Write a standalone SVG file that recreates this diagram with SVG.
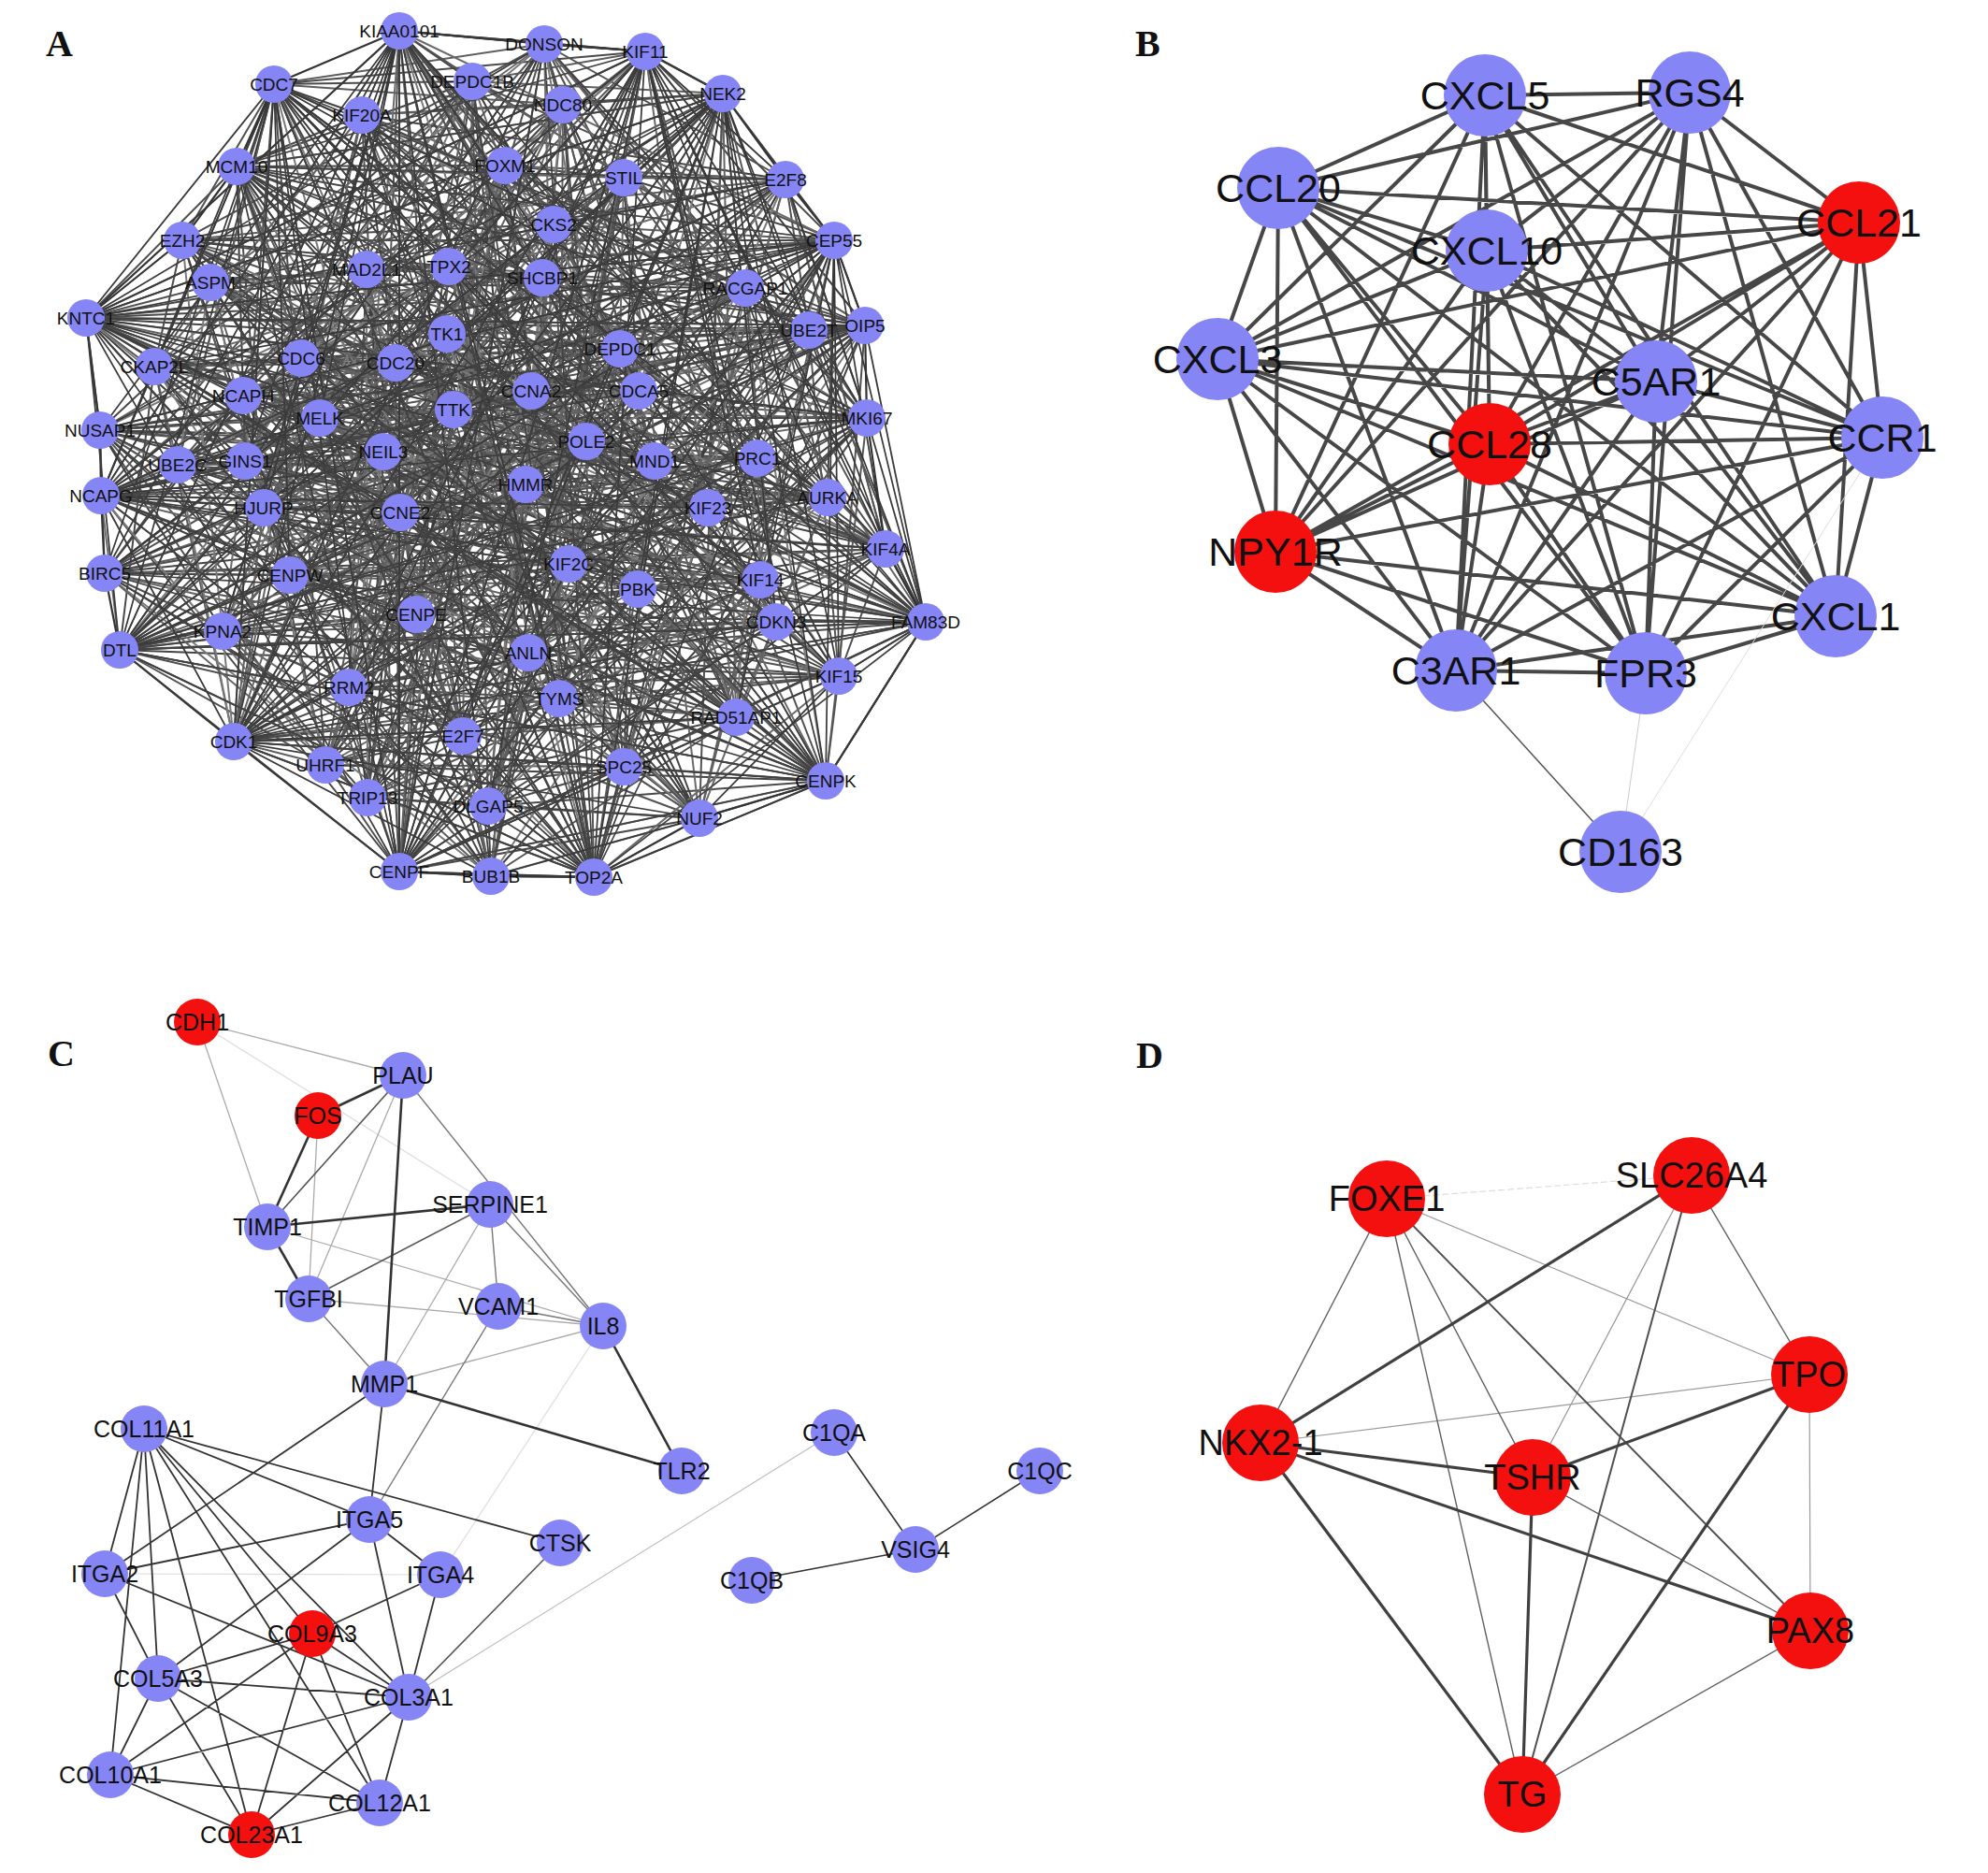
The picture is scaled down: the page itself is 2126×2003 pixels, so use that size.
<svg xmlns="http://www.w3.org/2000/svg" width="2126" height="2003" viewBox="0 0 2126 2003">
<style>
text{font-family:"Liberation Sans",Arial,sans-serif;fill:#111;text-anchor:middle}
.pl{font-family:"Liberation Serif","Times New Roman",serif;font-size:40px;font-weight:bold;text-anchor:start}
.A circle{fill:#8585f5}.A text{font-size:19px}
.B circle{fill:#8585f5}.B text{font-size:43px}
.C circle{fill:#8585f5}.C text{font-size:25px}
.D circle{fill:#f51010}.D text{font-size:38px}
.B .r circle,.C .r circle{fill:#f51010}
.e{fill:none;stroke-linecap:round;stroke-linejoin:round}
</style>
<rect width="2126" height="2003" fill="#fff"/>
<text class="pl" x="49" y="60">A</text>
<text class="pl" x="1214" y="60">B</text>
<text class="pl" x="51" y="1140">C</text>
<text class="pl" x="1215" y="1142">D</text>
<g id="edges">
<g id="edges-A" class="e" stroke-width="2">
<polyline stroke="#4a4a4a" points="427,33 582,47 690,55 293,90 505,87 602,112 773,100 387,123 253,178 540,177 667,190 840,192 592,240 195,257 892,257 225,302 392,288 480,285 580,297 797,308 92,340 865,353 925,348 478,357 663,373 165,392 322,383 423,388 260,423 568,418 683,418 927,447 342,447 485,438 107,460 627,472 410,483 700,493 810,490 190,497 262,493 108,530 562,518 757,543 885,532 282,543 428,548 947,587 112,613 310,615 608,603 682,630 813,620 445,657 238,675 128,695 830,665 990,665 565,698 897,723 373,735 598,747 787,767 250,793 495,787 348,818 393,853 667,820 522,862 883,835 748,875 427,932 525,937 635,938"/>
<polyline stroke="#505050" points="427,33 700,493 582,47 810,490 690,55 190,497 293,90 262,493 505,87 108,530 602,112 562,518 773,100 757,543 387,123 885,532 253,178 282,543 540,177 428,548 667,190 947,587 840,192 112,613 592,240 310,615 195,257 608,603 892,257 682,630 225,302 813,620 392,288 445,657 480,285 238,675 580,297 128,695 797,308 830,665 92,340 990,665 865,353 565,698 925,348 897,723 478,357 373,735 663,373 598,747 165,392 787,767 322,383 250,793 423,388 495,787 260,423 348,818 568,418 393,853 683,418 667,820 927,447 522,862 342,447 883,835 485,438 748,875 107,460 427,932 627,472 525,937 410,483 635,938"/>
<polyline stroke="#5e5e5e" points="427,33 690,55 505,87 773,100 253,178 667,190 592,240 892,257 392,288 580,297 92,340 925,348 663,373 322,383 260,423 683,418 342,447 107,460 410,483 810,490 262,493 562,518 885,532 428,548 112,613 608,603 813,620 238,675 830,665 565,698 373,735 787,767 495,787 393,853 522,862 748,875 525,937"/>
<polyline stroke="#5e5e5e" points="582,47 293,90 602,112 387,123 540,177 840,192 195,257 225,302 480,285 797,308 865,353 478,357 165,392 423,388 568,418 927,447 485,438 627,472 700,493 190,497 108,530 757,543 282,543 947,587 310,615 682,630 445,657 128,695 990,665 897,723 598,747 250,793 348,818 667,820 883,835 427,932 635,938"/>
<polyline stroke="#444" points="427,33 505,87 253,178 592,240 392,288 92,340 663,373 260,423 342,447 410,483 262,493 885,532 112,613 813,620 830,665 373,735 495,787 522,862 525,937 690,55 773,100 667,190 892,257 580,297 925,348 322,383 683,418 107,460 810,490 562,518 428,548 608,603 238,675 565,698 787,767 393,853 748,875 427,33"/>
<polyline stroke="#444" points="582,47 602,112 540,177 195,257 480,285 865,353 165,392 568,418 485,438 700,493 108,530 282,543 310,615 445,657 990,665 598,747 348,818 883,835 635,938 293,90 387,123 840,192 225,302 797,308 478,357 423,388 927,447 627,472 190,497 757,543 947,587 682,630 128,695 897,723 250,793 667,820 427,932 582,47"/>
<polyline stroke="#525252" points="427,33 667,190 92,340 683,418 262,493 608,603 373,735 748,875 773,100 392,288 322,383 410,483 428,548 830,665 393,853 690,55 592,240 925,348 342,447 562,518 813,620 787,767 525,937 253,178 580,297 260,423 810,490 112,613 565,698 522,862 505,87 892,257 663,373 107,460 885,532 238,675 495,787 427,33"/>
<polyline stroke="#525252" points="582,47 840,192 865,353 927,447 108,530 682,630 598,747 427,932 387,123 480,285 423,388 700,493 947,587 990,665 667,820 293,90 195,257 478,357 485,438 757,543 445,657 250,793 635,938 540,177 797,308 568,418 190,497 310,615 897,723 883,835 602,112 225,302 165,392 627,472 282,543 128,695 348,818 582,47"/>
<polyline stroke="#3e3e3e" points="427,33 92,340 262,493 373,735 773,100 322,383 428,548 393,853 592,240 342,447 813,620 525,937 580,297 810,490 565,698 505,87 663,373 885,532 495,787 667,190 683,418 608,603 748,875 392,288 410,483 830,665 690,55 925,348 562,518 787,767 253,178 260,423 112,613 522,862 892,257 107,460 238,675 427,33"/>
<polyline stroke="#3e3e3e" points="582,47 865,353 108,530 598,747 387,123 423,388 947,587 667,820 195,257 485,438 445,657 635,938 797,308 190,497 897,723 602,112 165,392 282,543 348,818 840,192 927,447 682,630 427,932 480,285 700,493 990,665 293,90 478,357 757,543 250,793 540,177 568,418 310,615 883,835 225,302 627,472 128,695 582,47"/>
<polyline stroke="#484848" points="427,33 683,418 373,735 392,288 428,548 690,55 342,447 787,767 580,297 112,613 505,87 107,460 495,787 92,340 608,603 773,100 410,483 393,853 925,348 813,620 253,178 810,490 522,862 663,373 238,675 667,190 262,493 748,875 322,383 830,665 592,240 562,518 525,937 260,423 565,698 892,257 885,532 427,33"/>
<polyline stroke="#484848" points="582,47 927,447 598,747 480,285 947,587 293,90 485,438 250,793 797,308 310,615 602,112 627,472 348,818 865,353 682,630 387,123 700,493 667,820 478,357 445,657 540,177 190,497 883,835 165,392 128,695 840,192 108,530 427,932 423,388 990,665 195,257 757,543 635,938 568,418 897,723 225,302 282,543 582,47"/>
<polyline stroke="#6a6a6a" points="427,33 892,257 260,423 562,518 830,665 748,875 667,190 663,373 810,490 813,620 393,853 773,100 92,340 107,460 112,613 787,767 690,55 392,288 683,418 885,532 565,698 525,937 592,240 322,383 262,493 238,675 522,862 253,178 925,348 410,483 608,603 495,787 505,87 580,297 342,447 428,548 373,735 427,33"/>
<polyline stroke="#6a6a6a" points="582,47 225,302 568,418 757,543 990,665 427,932 840,192 165,392 190,497 445,657 667,820 387,123 865,353 627,472 310,615 250,793 293,90 480,285 927,447 282,543 897,723 635,938 195,257 423,388 108,530 128,695 883,835 540,177 478,357 700,493 682,630 348,818 602,112 797,308 485,438 947,587 598,747 582,47"/>
<polyline stroke="#585858" points="427,33 410,483 525,937 107,460 748,875 342,447 522,862 683,418 393,853 260,423 495,787 322,383 787,767 663,373 373,735 925,348 565,698 92,340 830,665 580,297 238,675 392,288 813,620 892,257 608,603 592,240 112,613 667,190 428,548 253,178 885,532 773,100 562,518 505,87 262,493 690,55 810,490 427,33"/>
<polyline stroke="#585858" points="582,47 700,493 635,938 627,472 427,932 485,438 883,835 927,447 667,820 568,418 348,818 423,388 250,793 165,392 598,747 478,357 897,723 865,353 990,665 797,308 128,695 480,285 445,657 225,302 682,630 195,257 310,615 840,192 947,587 540,177 282,543 387,123 757,543 602,112 108,530 293,90 190,497 582,47"/>
<polyline stroke="#7a7a7a" points="427,33 663,373 112,613 525,937 925,348 428,548 748,875 92,340 885,532 522,862 580,297 562,518 393,853 392,288 262,493 495,787 892,257 810,490 787,767 592,240 410,483 373,735 667,190 107,460 565,698 253,178 342,447 830,665 773,100 683,418 238,675 505,87 260,423 813,620 690,55 322,383 608,603 427,33"/>
<polyline stroke="#7a7a7a" points="582,47 165,392 310,615 635,938 478,357 947,587 427,932 865,353 282,543 883,835 797,308 757,543 667,820 480,285 108,530 348,818 225,302 190,497 250,793 195,257 700,493 598,747 840,192 627,472 897,723 540,177 485,438 990,665 387,123 927,447 128,695 602,112 568,418 445,657 293,90 423,388 682,630 582,47"/>
<polyline stroke="#4e4e4e" points="427,33 592,240 663,373 410,483 112,613 373,735 525,937 667,190 925,348 107,460 428,548 565,698 748,875 253,178 92,340 342,447 885,532 830,665 522,862 773,100 580,297 683,418 562,518 238,675 393,853 505,87 392,288 260,423 262,493 813,620 495,787 690,55 892,257 322,383 810,490 608,603 787,767 427,33"/>
<polyline stroke="#4e4e4e" points="582,47 195,257 165,392 700,493 310,615 598,747 635,938 840,192 478,357 627,472 947,587 897,723 427,932 540,177 865,353 485,438 282,543 990,665 883,835 387,123 797,308 927,447 757,543 128,695 667,820 602,112 480,285 568,418 108,530 445,657 348,818 293,90 225,302 423,388 190,497 682,630 250,793 582,47"/>
<polyline stroke="#626262" points="427,33 580,297 410,483 238,675 525,937 392,288 107,460 813,620 748,875 892,257 342,447 608,603 522,862 592,240 683,418 112,613 393,853 667,190 260,423 428,548 495,787 253,178 322,383 885,532 787,767 773,100 663,373 562,518 373,735 505,87 925,348 262,493 565,698 690,55 92,340 810,490 830,665 427,33"/>
<polyline stroke="#626262" points="582,47 797,308 700,493 128,695 635,938 480,285 627,472 445,657 427,932 225,302 485,438 682,630 883,835 195,257 927,447 310,615 667,820 840,192 568,418 947,587 348,818 540,177 423,388 282,543 250,793 387,123 165,392 757,543 598,747 602,112 478,357 108,530 897,723 293,90 865,353 190,497 990,665 582,47"/>
<path stroke="#383838" stroke-width="1.7" d="M427 33 92 340M427 33 107 460M427 33 108 530M427 33 112 613M427 33 128 695M427 33 250 793M427 33 427 932M427 33 525 937M427 33 635 938M427 33 883 835M427 33 897 723M427 33 947 587M427 33 282 543M427 33 598 747M427 33 238 675M427 33 262 493M427 33 342 447
M293 90 108 530M293 90 112 613M293 90 128 695M293 90 250 793M293 90 427 932M293 90 635 938M293 90 883 835M293 90 990 665M293 90 885 532M293 90 927 447M293 90 865 353M293 90 813 620M293 90 897 723M293 90 393 853M293 90 310 615
M690 55 92 340M690 55 108 530M690 55 128 695M690 55 250 793M690 55 427 932M690 55 635 938M690 55 883 835M690 55 990 665M690 55 947 587M690 55 885 532M690 55 927 447M690 55 813 620M690 55 373 735M690 55 348 818M690 55 522 862
M773 100 92 340M773 100 107 460M773 100 112 613M773 100 128 695M773 100 250 793M773 100 427 932M773 100 635 938M773 100 883 835M773 100 897 723M773 100 830 665M773 100 682 630M773 100 495 787M773 100 282 543M773 100 990 665M773 100 947 587
M892 257 92 340M892 257 165 392M892 257 107 460M892 257 108 530M892 257 112 613M892 257 128 695M892 257 250 793M892 257 427 932M892 257 635 938M892 257 883 835M892 257 990 665M892 257 947 587M892 257 897 723M892 257 787 767M892 257 393 853"/>
<path stroke="#3c3c3c" stroke-width="1.7" d="M92 340 582 47M92 340 690 55M92 340 773 100M92 340 840 192M92 340 892 257M92 340 925 348M92 340 927 447M92 340 885 532M92 340 947 587M92 340 990 665M92 340 897 723M92 340 883 835M92 340 635 938M92 340 525 937M92 340 787 767M92 340 682 630
M108 530 427 33M108 530 690 55M108 530 773 100M108 530 840 192M108 530 892 257M108 530 925 348M108 530 927 447M108 530 947 587M108 530 990 665M108 530 883 835M108 530 635 938M108 530 797 308M108 530 683 418M108 530 757 543M108 530 813 620
M128 695 427 33M128 695 582 47M128 695 690 55M128 695 773 100M128 695 840 192M128 695 892 257M128 695 925 348M128 695 927 447M128 695 885 532M128 695 990 665M128 695 883 835M128 695 635 938M128 695 865 353M128 695 810 490M128 695 757 543
M250 793 582 47M250 793 690 55M250 793 773 100M250 793 840 192M250 793 892 257M250 793 925 348M250 793 927 447M250 793 947 587M250 793 990 665M250 793 883 835M250 793 635 938M250 793 748 875M250 793 667 820M250 793 787 767M250 793 830 665M250 793 810 490
M427 932 427 33M427 932 582 47M427 932 690 55M427 932 773 100M427 932 840 192M427 932 892 257M427 932 925 348M427 932 927 447M427 932 947 587M427 932 990 665M427 932 897 723M427 932 293 90M427 932 253 178M427 932 195 257M427 932 92 340"/>
<path stroke="#424242" stroke-width="1.7" d="M635 938 427 33M635 938 293 90M635 938 253 178M635 938 195 257M635 938 92 340M635 938 107 460M635 938 108 530M635 938 112 613M635 938 128 695M635 938 250 793M635 938 165 392M635 938 505 87M635 938 387 123M635 938 225 302M635 938 582 47
M883 835 427 33M883 835 293 90M883 835 253 178M883 835 195 257M883 835 92 340M883 835 107 460M883 835 108 530M883 835 112 613M883 835 128 695M883 835 250 793M883 835 427 932M883 835 165 392M883 835 387 123M883 835 392 288M883 835 322 383
M990 665 427 33M990 665 293 90M990 665 253 178M990 665 195 257M990 665 92 340M990 665 107 460M990 665 108 530M990 665 112 613M990 665 128 695M990 665 250 793M990 665 427 932M990 665 635 938M990 665 505 87M990 665 387 123M990 665 260 423
M925 348 195 257M925 348 92 340M925 348 107 460M925 348 108 530M925 348 112 613M925 348 128 695M925 348 250 793M925 348 427 932M925 348 635 938M925 348 253 178M925 348 293 90M925 348 262 493M925 348 310 615M925 348 393 853M925 348 238 675
M253 178 635 938M253 178 883 835M253 178 990 665M253 178 947 587M253 178 927 447M253 178 925 348M253 178 892 257M253 178 840 192M253 178 773 100M253 178 690 55M253 178 525 937M253 178 748 875M253 178 897 723M253 178 830 665M253 178 813 620"/>
<polyline stroke="#333" stroke-width="2.2" points="427,33 582,47 690,55 773,100 840,192 892,257 925,348 927,447 947,587 990,665 883,835 748,875 635,938 525,937 427,932 250,793 128,695 112,613 108,530 107,460 92,340 195,257 253,178 293,90 427,33"/>
<polyline stroke="#3a3a3a" stroke-width="1.8" points="293,90 92,340 128,695 427,932 635,938 883,835 990,665 925,348 892,257 773,100 690,55 427,33"/>
<polyline stroke="#3a3a3a" stroke-width="1.8" points="253,178 108,530 250,793 525,937 748,875 897,723 990,665 927,447 840,192 690,55 582,47 427,33"/>
</g>
<g id="edges-B" class="e">
<polyline stroke="#474747" stroke-width="4" points="1588,102 1807,99 1367,201 1988,238 1590,268 1302,384 1771,408 2013,468 1593,475 1364,590 1963,659 1557,717 1760,720 1588,102 1367,201 1590,268 1771,408 1593,475 1963,659 1760,720 1807,99 1988,238 1302,384 2013,468 1364,590 1557,717 1588,102 1988,238 1771,408 1364,590 1760,720 1367,201 1302,384 1593,475 1557,717 1807,99 1590,268 2013,468 1963,659 1588,102 1590,268 1593,475 1760,720 1988,238 2013,468 1557,717 1367,201 1771,408 1963,659 1807,99 1302,384 1364,590 1588,102 1302,384 1963,659 1367,201 2013,468 1760,720 1590,268 1364,590 1807,99 1771,408 1557,717 1988,238 1593,475 1588,102 1771,408 1760,720 1302,384 1557,717 1590,268 1963,659 1988,238 1364,590 1367,201 1593,475 1807,99 2013,468 1588,102"/>
<path stroke="#555" stroke-width="1.5" d="M1557 717 1733 911"/>
<path stroke="#ccc" stroke-width="1" d="M1760 720 1733 911"/>
<path stroke="#ddd" stroke-width="1" d="M2013 468 1733 911"/>
</g>
<g id="edges-C" class="e">
<path stroke="#ddd" stroke-width="1.2" d="M211 1093 524 1288M645 1418 471 1684M112 1683 471 1684"/>
<path stroke="#bbb" stroke-width="1.2" d="M892 1532 437 1815"/>
<path stroke="#aaa" stroke-width="1.3" d="M211 1093 431 1150M211 1093 286 1312M340 1193 330 1389M431 1150 330 1389M286 1312 645 1418M330 1389 645 1418M524 1288 411 1480M411 1480 645 1418"/>
<path stroke="#777" stroke-width="1.4" d="M431 1150 645 1418M524 1288 645 1418M524 1288 533 1397M533 1397 645 1418M330 1389 411 1480M533 1397 395 1625"/>
<path stroke="#555" stroke-width="1.6" d="M431 1150 286 1312M330 1389 524 1288M599 1650 437 1815"/>
<path stroke="#333" stroke-width="2.6" d="M340 1193 431 1150M340 1193 286 1312M431 1150 411 1480M286 1312 524 1288M286 1312 330 1389M411 1480 729 1573M645 1418 729 1573"/>
<path stroke="#333" stroke-width="1.8" d="M411 1480 395 1625M411 1480 112 1683M154 1528 112 1683M154 1528 118 1898M154 1528 169 1795M154 1528 269 1962M154 1528 406 1928M154 1528 334 1747M154 1528 437 1815M154 1528 395 1625M154 1528 599 1650M112 1683 395 1625M112 1683 169 1795M112 1683 437 1815M395 1625 169 1795M395 1625 471 1684M395 1625 437 1815M471 1684 334 1747M471 1684 437 1815M334 1747 169 1795M334 1747 118 1898M334 1747 269 1962M334 1747 406 1928M334 1747 437 1815M169 1795 437 1815M169 1795 118 1898M169 1795 269 1962M169 1795 406 1928M437 1815 118 1898M437 1815 269 1962M437 1815 406 1928M118 1898 406 1928M118 1898 269 1962M406 1928 269 1962"/>
<path stroke="#333" stroke-width="1.6" d="M892 1532 979 1657M979 1657 1112 1573M979 1657 804 1690"/>
</g>
<g id="edges-D" class="e">
<path stroke="#ddd" stroke-width="1.2" stroke-dasharray="6 4" d="M1483 1282 1809 1257"/>
<path stroke="#999" stroke-width="1.2" d="M1935 1470 1936 1744M1483 1282 1935 1470M1348 1543 1935 1470M1809 1257 1639 1580"/>
<path stroke="#606060" stroke-width="1.4" d="M1483 1282 1348 1543M1809 1257 1935 1470M1483 1282 1628 1919M1483 1282 1639 1580M1639 1580 1936 1744M1936 1744 1628 1919"/>
<path stroke="#505050" stroke-width="2" d="M1809 1257 1628 1919M1483 1282 1936 1744"/>
<path stroke="#404040" stroke-width="3.2" d="M1809 1257 1348 1543M1348 1543 1639 1580M1348 1543 1936 1744M1348 1543 1628 1919M1639 1580 1628 1919M1935 1470 1639 1580M1935 1470 1628 1919"/>
</g>
</g>
<g id="panel-A" class="A">
<g id="a-KIAA0101" transform="translate(427,33)"><circle r="20"/><text y="7">KIAA0101</text></g>
<g id="a-DONSON" transform="translate(582,47)"><circle r="20"/><text y="7">DONSON</text></g>
<g id="a-KIF11" transform="translate(690,55)"><circle r="20"/><text y="7">KIF11</text></g>
<g id="a-CDC7" transform="translate(293,90)"><circle r="20"/><text y="7">CDC7</text></g>
<g id="a-DEPDC1B" transform="translate(505,87)"><circle r="20"/><text y="7">DEPDC1B</text></g>
<g id="a-NDC80" transform="translate(602,112)"><circle r="20"/><text y="7">NDC80</text></g>
<g id="a-NEK2" transform="translate(773,100)"><circle r="20"/><text y="7">NEK2</text></g>
<g id="a-KIF20A" transform="translate(387,123)"><circle r="20"/><text y="7">KIF20A</text></g>
<g id="a-MCM10" transform="translate(253,178)"><circle r="20"/><text y="7">MCM10</text></g>
<g id="a-FOXM1" transform="translate(540,177)"><circle r="20"/><text y="7">FOXM1</text></g>
<g id="a-STIL" transform="translate(667,190)"><circle r="20"/><text y="7">STIL</text></g>
<g id="a-E2F8" transform="translate(840,192)"><circle r="20"/><text y="7">E2F8</text></g>
<g id="a-CKS2" transform="translate(592,240)"><circle r="20"/><text y="7">CKS2</text></g>
<g id="a-EZH2" transform="translate(195,257)"><circle r="20"/><text y="7">EZH2</text></g>
<g id="a-CEP55" transform="translate(892,257)"><circle r="20"/><text y="7">CEP55</text></g>
<g id="a-ASPM" transform="translate(225,302)"><circle r="20"/><text y="7">ASPM</text></g>
<g id="a-MAD2L1" transform="translate(392,288)"><circle r="20"/><text y="7">MAD2L1</text></g>
<g id="a-TPX2" transform="translate(480,285)"><circle r="20"/><text y="7">TPX2</text></g>
<g id="a-SHCBP1" transform="translate(580,297)"><circle r="20"/><text y="7">SHCBP1</text></g>
<g id="a-RACGAP1" transform="translate(797,308)"><circle r="20"/><text y="7">RACGAP1</text></g>
<g id="a-KNTC1" transform="translate(92,340)"><circle r="20"/><text y="7">KNTC1</text></g>
<g id="a-UBE2T" transform="translate(865,353)"><circle r="20"/><text y="7">UBE2T</text></g>
<g id="a-OIP5" transform="translate(925,348)"><circle r="20"/><text y="7">OIP5</text></g>
<g id="a-TK1" transform="translate(478,357)"><circle r="20"/><text y="7">TK1</text></g>
<g id="a-DEPDC1" transform="translate(663,373)"><circle r="20"/><text y="7">DEPDC1</text></g>
<g id="a-CKAP2L" transform="translate(165,392)"><circle r="20"/><text y="7">CKAP2L</text></g>
<g id="a-CDC6" transform="translate(322,383)"><circle r="20"/><text y="7">CDC6</text></g>
<g id="a-CDC20" transform="translate(423,388)"><circle r="20"/><text y="7">CDC20</text></g>
<g id="a-NCAPH" transform="translate(260,423)"><circle r="20"/><text y="7">NCAPH</text></g>
<g id="a-CCNA2" transform="translate(568,418)"><circle r="20"/><text y="7">CCNA2</text></g>
<g id="a-CDCA5" transform="translate(683,418)"><circle r="20"/><text y="7">CDCA5</text></g>
<g id="a-MKI67" transform="translate(927,447)"><circle r="20"/><text y="7">MKI67</text></g>
<g id="a-MELK" transform="translate(342,447)"><circle r="20"/><text y="7">MELK</text></g>
<g id="a-TTK" transform="translate(485,438)"><circle r="20"/><text y="7">TTK</text></g>
<g id="a-NUSAP1" transform="translate(107,460)"><circle r="20"/><text y="7">NUSAP1</text></g>
<g id="a-POLE2" transform="translate(627,472)"><circle r="20"/><text y="7">POLE2</text></g>
<g id="a-NEIL3" transform="translate(410,483)"><circle r="20"/><text y="7">NEIL3</text></g>
<g id="a-MND1" transform="translate(700,493)"><circle r="20"/><text y="7">MND1</text></g>
<g id="a-PRC1" transform="translate(810,490)"><circle r="20"/><text y="7">PRC1</text></g>
<g id="a-UBE2C" transform="translate(190,497)"><circle r="20"/><text y="7">UBE2C</text></g>
<g id="a-GINS1" transform="translate(262,493)"><circle r="20"/><text y="7">GINS1</text></g>
<g id="a-NCAPG" transform="translate(108,530)"><circle r="20"/><text y="7">NCAPG</text></g>
<g id="a-HMMR" transform="translate(562,518)"><circle r="20"/><text y="7">HMMR</text></g>
<g id="a-KIF23" transform="translate(757,543)"><circle r="20"/><text y="7">KIF23</text></g>
<g id="a-AURKA" transform="translate(885,532)"><circle r="20"/><text y="7">AURKA</text></g>
<g id="a-HJURP" transform="translate(282,543)"><circle r="20"/><text y="7">HJURP</text></g>
<g id="a-CCNE2" transform="translate(428,548)"><circle r="20"/><text y="7">CCNE2</text></g>
<g id="a-KIF4A" transform="translate(947,587)"><circle r="20"/><text y="7">KIF4A</text></g>
<g id="a-BIRC5" transform="translate(112,613)"><circle r="20"/><text y="7">BIRC5</text></g>
<g id="a-CENPW" transform="translate(310,615)"><circle r="20"/><text y="7">CENPW</text></g>
<g id="a-KIF2C" transform="translate(608,603)"><circle r="20"/><text y="7">KIF2C</text></g>
<g id="a-PBK" transform="translate(682,630)"><circle r="20"/><text y="7">PBK</text></g>
<g id="a-KIF14" transform="translate(813,620)"><circle r="20"/><text y="7">KIF14</text></g>
<g id="a-CENPE" transform="translate(445,657)"><circle r="20"/><text y="7">CENPE</text></g>
<g id="a-KPNA2" transform="translate(238,675)"><circle r="20"/><text y="7">KPNA2</text></g>
<g id="a-DTL" transform="translate(128,695)"><circle r="20"/><text y="7">DTL</text></g>
<g id="a-CDKN3" transform="translate(830,665)"><circle r="20"/><text y="7">CDKN3</text></g>
<g id="a-FAM83D" transform="translate(990,665)"><circle r="20"/><text y="7">FAM83D</text></g>
<g id="a-ANLN" transform="translate(565,698)"><circle r="20"/><text y="7">ANLN</text></g>
<g id="a-KIF15" transform="translate(897,723)"><circle r="20"/><text y="7">KIF15</text></g>
<g id="a-RRM2" transform="translate(373,735)"><circle r="20"/><text y="7">RRM2</text></g>
<g id="a-TYMS" transform="translate(598,747)"><circle r="20"/><text y="7">TYMS</text></g>
<g id="a-RAD51AP1" transform="translate(787,767)"><circle r="20"/><text y="7">RAD51AP1</text></g>
<g id="a-CDK1" transform="translate(250,793)"><circle r="20"/><text y="7">CDK1</text></g>
<g id="a-E2F7" transform="translate(495,787)"><circle r="20"/><text y="7">E2F7</text></g>
<g id="a-UHRF1" transform="translate(348,818)"><circle r="20"/><text y="7">UHRF1</text></g>
<g id="a-TRIP13" transform="translate(393,853)"><circle r="20"/><text y="7">TRIP13</text></g>
<g id="a-SPC25" transform="translate(667,820)"><circle r="20"/><text y="7">SPC25</text></g>
<g id="a-DLGAP5" transform="translate(522,862)"><circle r="20"/><text y="7">DLGAP5</text></g>
<g id="a-CENPK" transform="translate(883,835)"><circle r="20"/><text y="7">CENPK</text></g>
<g id="a-NUF2" transform="translate(748,875)"><circle r="20"/><text y="7">NUF2</text></g>
<g id="a-CENPF" transform="translate(427,932)"><circle r="20"/><text y="7">CENPF</text></g>
<g id="a-BUB1B" transform="translate(525,937)"><circle r="20"/><text y="7">BUB1B</text></g>
<g id="a-TOP2A" transform="translate(635,938)"><circle r="20"/><text y="7">TOP2A</text></g>
</g>
<g id="panel-B" class="B">
<g id="b-CXCL5" transform="translate(1588,102)"><circle r="44"/><text y="15">CXCL5</text></g>
<g id="b-RGS4" transform="translate(1807,99)"><circle r="44"/><text y="15">RGS4</text></g>
<g id="b-CCL20" transform="translate(1367,201)"><circle r="44"/><text y="15">CCL20</text></g>
<g id="b-CCL21" class="r" transform="translate(1988,238)"><circle r="44"/><text y="15">CCL21</text></g>
<g id="b-CXCL10" transform="translate(1590,268)"><circle r="44"/><text y="15">CXCL10</text></g>
<g id="b-CXCL3" transform="translate(1302,384)"><circle r="44"/><text y="15">CXCL3</text></g>
<g id="b-C5AR1" transform="translate(1771,408)"><circle r="44"/><text y="15">C5AR1</text></g>
<g id="b-CCR1" transform="translate(2013,468)"><circle r="44"/><text y="15">CCR1</text></g>
<g id="b-CCL28" class="r" transform="translate(1593,475)"><circle r="44"/><text y="15">CCL28</text></g>
<g id="b-NPY1R" class="r" transform="translate(1364,590)"><circle r="44"/><text y="15">NPY1R</text></g>
<g id="b-CXCL1" transform="translate(1963,659)"><circle r="44"/><text y="15">CXCL1</text></g>
<g id="b-C3AR1" transform="translate(1557,717)"><circle r="44"/><text y="15">C3AR1</text></g>
<g id="b-FPR3" transform="translate(1760,720)"><circle r="44"/><text y="15">FPR3</text></g>
<g id="b-CD163" transform="translate(1733,911)"><circle r="44"/><text y="15">CD163</text></g>
</g>
<g id="panel-C" class="C">
<g id="c-CDH1" class="r" transform="translate(211,1093)"><circle r="25"/><text y="9">CDH1</text></g>
<g id="c-PLAU" transform="translate(431,1150)"><circle r="25"/><text y="9">PLAU</text></g>
<g id="c-FOS" class="r" transform="translate(340,1193)"><circle r="25"/><text y="9">FOS</text></g>
<g id="c-SERPINE1" transform="translate(524,1288)"><circle r="25"/><text y="9">SERPINE1</text></g>
<g id="c-TIMP1" transform="translate(286,1312)"><circle r="25"/><text y="9">TIMP1</text></g>
<g id="c-TGFBI" transform="translate(330,1389)"><circle r="25"/><text y="9">TGFBI</text></g>
<g id="c-VCAM1" transform="translate(533,1397)"><circle r="25"/><text y="9">VCAM1</text></g>
<g id="c-IL8" transform="translate(645,1418)"><circle r="25"/><text y="9">IL8</text></g>
<g id="c-MMP1" transform="translate(411,1480)"><circle r="25"/><text y="9">MMP1</text></g>
<g id="c-COL11A1" transform="translate(154,1528)"><circle r="25"/><text y="9">COL11A1</text></g>
<g id="c-TLR2" transform="translate(729,1573)"><circle r="25"/><text y="9">TLR2</text></g>
<g id="c-C1QA" transform="translate(892,1532)"><circle r="25"/><text y="9">C1QA</text></g>
<g id="c-C1QC" transform="translate(1112,1573)"><circle r="25"/><text y="9">C1QC</text></g>
<g id="c-ITGA5" transform="translate(395,1625)"><circle r="25"/><text y="9">ITGA5</text></g>
<g id="c-CTSK" transform="translate(599,1650)"><circle r="25"/><text y="9">CTSK</text></g>
<g id="c-VSIG4" transform="translate(979,1657)"><circle r="25"/><text y="9">VSIG4</text></g>
<g id="c-C1QB" transform="translate(804,1690)"><circle r="25"/><text y="9">C1QB</text></g>
<g id="c-ITGA2" transform="translate(112,1683)"><circle r="25"/><text y="9">ITGA2</text></g>
<g id="c-ITGA4" transform="translate(471,1684)"><circle r="25"/><text y="9">ITGA4</text></g>
<g id="c-COL9A3" class="r" transform="translate(334,1747)"><circle r="25"/><text y="9">COL9A3</text></g>
<g id="c-COL5A3" transform="translate(169,1795)"><circle r="25"/><text y="9">COL5A3</text></g>
<g id="c-COL3A1" transform="translate(437,1815)"><circle r="25"/><text y="9">COL3A1</text></g>
<g id="c-COL10A1" transform="translate(118,1898)"><circle r="25"/><text y="9">COL10A1</text></g>
<g id="c-COL12A1" transform="translate(406,1928)"><circle r="25"/><text y="9">COL12A1</text></g>
<g id="c-COL23A1" class="r" transform="translate(269,1962)"><circle r="25"/><text y="9">COL23A1</text></g>
</g>
<g id="panel-D" class="D">
<g id="d-FOXE1" transform="translate(1483,1282)"><circle r="41"/><text y="13">FOXE1</text></g>
<g id="d-SLC26A4" transform="translate(1809,1257)"><circle r="41"/><text y="13">SLC26A4</text></g>
<g id="d-TPO" transform="translate(1935,1470)"><circle r="41"/><text y="13">TPO</text></g>
<g id="d-NKX2-1" transform="translate(1348,1543)"><circle r="41"/><text y="13">NKX2-1</text></g>
<g id="d-TSHR" transform="translate(1639,1580)"><circle r="41"/><text y="13">TSHR</text></g>
<g id="d-PAX8" transform="translate(1936,1744)"><circle r="41"/><text y="13">PAX8</text></g>
<g id="d-TG" transform="translate(1628,1919)"><circle r="41"/><text y="13">TG</text></g>
</g>
</svg>
